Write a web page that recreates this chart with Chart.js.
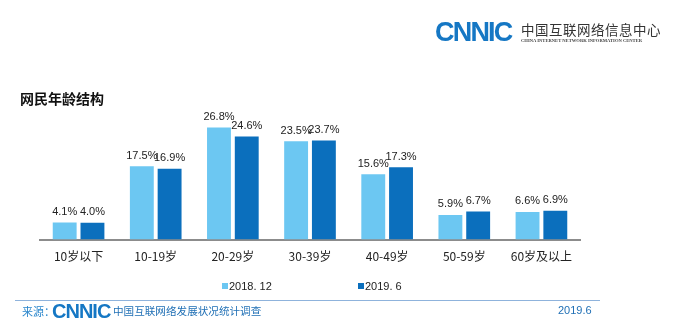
<!DOCTYPE html>
<html>
<head>
<meta charset="utf-8">
<script src="https://cdn.jsdelivr.net/npm/chart.js@4.4.0/dist/chart.umd.min.js"></script>
<style>
  body { margin: 0; background: #fff; font-family: "Liberation Sans", "Noto Sans CJK SC", sans-serif; }
  #wrap { position: relative; width: 695px; height: 334px; overflow: hidden; }
  #chart { position: absolute; left: 0; top: 0; }
  .abs { position: absolute; white-space: nowrap; }
  .logo { font-family: "Liberation Sans", Arial, sans-serif; font-weight: bold; color: #1577c4; letter-spacing: -1px; }
  .cjk { font-family: "Noto Sans CJK SC", sans-serif; }
  .sw { display: inline-block; width: 6px; height: 6px; margin-right: 1px; vertical-align: 1px; }
</style>
</head>
<body>
<div id="wrap">
  <canvas id="chart" width="695" height="334"></canvas>

  <div class="abs logo" style="left:435px; top:17px; font-size:27px; letter-spacing:-1.8px;">CNNIC</div>
  <div class="abs cjk" style="left:521px; top:19px; font-size:13.5px; color:#333; letter-spacing:0.5px;">中国互联网络信息中心</div>
  <div class="abs" style="left:521px; top:38px; font-size:4.6px; font-weight:bold; color:#444; font-family:'Liberation Serif', serif;">CHINA INTERNET NETWORK INFORMATION CENTER</div>

  <div class="abs cjk" style="left:20px; top:88px; font-size:14px; font-weight:bold; color:#111;">网民年龄结构</div>

  <div class="abs" style="left:222px; top:280px; font-size:11px; color:#222;"><span class="sw" style="background:#6cc7f2"></span>2018. 12</div>
  <div class="abs" style="left:358px; top:280px; font-size:11px; color:#222;"><span class="sw" style="background:#0b6fbd"></span>2019. 6</div>

  <div class="abs" style="left:15px; top:300px; width:585px; height:1px; background:#8fb3dc;"></div>
  <div class="abs cjk" style="left:22px; top:303px; font-size:11px; color:#2a86cc;">来源：</div>
  <div class="abs logo" style="left:52px; top:300px; font-size:20px;">CNNIC</div>
  <div class="abs cjk" style="left:113px; top:303px; font-size:10.6px; color:#1f6fb5;">中国互联网络发展状况统计调查</div>
  <div class="abs" style="left:558px; top:304px; font-size:11px; color:#1f6fb5;">2019.6</div>
</div>
<script>
const categories = ['10岁以下', '10-19岁', '20-29岁', '30-39岁', '40-49岁', '50-59岁', '60岁及以上'];
const seriesNames = ['2018. 12', '2019. 6'];
const values2018 = [4.1, 17.5, 26.8, 23.5, 15.6, 5.9, 6.6];
const values2019 = [4.0, 16.9, 24.6, 23.7, 17.3, 6.7, 6.9];

const valueLabels = {
  id: 'valueLabels',
  afterDatasetsDraw(chart) {
    const ctx = chart.ctx;
    ctx.save();
    ctx.font = '11px "Liberation Sans", Arial, sans-serif';
    ctx.fillStyle = '#222';
    ctx.textAlign = 'center';
    ctx.textBaseline = 'bottom';
    chart.data.datasets.forEach((ds, i) => {
      chart.getDatasetMeta(i).data.forEach((bar, j) => {
        ctx.fillText(ds.data[j].toFixed(1) + '%', bar.x, bar.y - 5);
      });
    });
    ctx.restore();
  }
};

new Chart(document.getElementById('chart').getContext('2d'), {
  type: 'bar',
  data: {
    labels: categories,
    datasets: [
      { label: seriesNames[0], data: values2018, backgroundColor: '#6cc7f2', barPercentage: 0.86, categoryPercentage: 0.72 },
      { label: seriesNames[1], data: values2019, backgroundColor: '#0b6fbd', barPercentage: 0.86, categoryPercentage: 0.72 }
    ]
  },
  options: {
    responsive: false,
    animation: false,
    layout: { padding: { left: 40, right: 115, top: 114, bottom: 60 } },
    plugins: { legend: { display: false }, tooltip: { enabled: false } },
    scales: {
      x: {
        grid: { display: false, drawTicks: false },
        border: { display: true, color: '#8c8c8c', width: 2 },
        ticks: { padding: 10, color: '#222', font: { size: 12, family: '"Noto Sans CJK SC", "Liberation Sans", sans-serif' } }
      },
      y: { display: false, min: 0, max: 30 }
    }
  },
  plugins: [valueLabels]
});
</script>
</body>
</html>
